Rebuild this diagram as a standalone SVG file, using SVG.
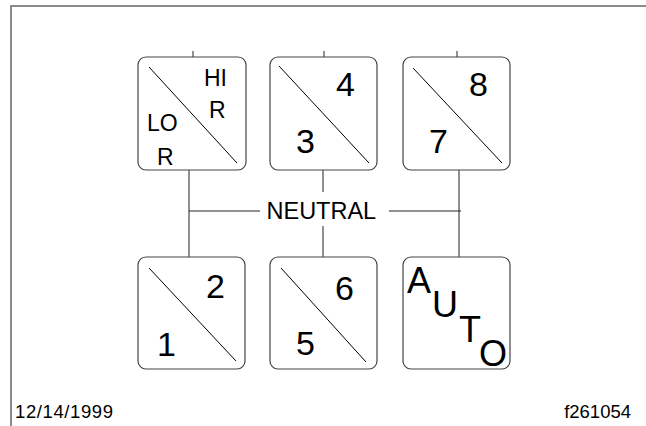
<svg xmlns="http://www.w3.org/2000/svg" width="646" height="426" viewBox="0 0 646 426">
<style>
.box{fill:#fff;stroke:#444;stroke-width:1.2}
.diag{stroke:#000;stroke-width:1}
.con{stroke:#222;stroke-width:1;fill:none}
text{font-family:"Liberation Sans",Arial,sans-serif;fill:#000}
.d{font-size:34px}
.s{font-size:23px}
.n{font-size:23.5px}
.a{font-size:36px}
.f{font-size:18.5px}
</style>
<rect x="0" y="0" width="646" height="426" fill="#fff"/>
<path d="M11 430 V6 H650" fill="none" stroke="#666" stroke-width="1.5"/>
<g id="connectors">
<line class="con" x1="193" y1="51" x2="193" y2="57"/>
<line class="con" x1="324" y1="51" x2="324" y2="57"/>
<line class="con" x1="457" y1="51" x2="457" y2="57"/>
<line class="con" x1="189" y1="170" x2="189" y2="257"/>
<line class="con" x1="323" y1="170" x2="323" y2="192"/>
<line class="con" x1="323" y1="226" x2="323" y2="257"/>
<line class="con" x1="459" y1="170" x2="459" y2="257"/>
<line class="con" x1="189" y1="211" x2="260" y2="211"/>
<line class="con" x1="389" y1="211" x2="461" y2="211"/>
<text id="neutral" x="266.5" y="218.5" class="n">NEUTRAL</text>
</g>
<g id="box-lo-hi">
<rect class="box" x="138" y="57" width="108" height="113" rx="8"/>
<line class="diag" x1="149" y1="67" x2="237" y2="163"/>
<text class="s" x="204" y="86">HI</text>
<text class="s" x="209" y="118">R</text>
<text class="s" x="147" y="131">LO</text>
<text class="s" x="157" y="165">R</text>
</g>
<g id="box-3-4">
<rect class="box" x="270" y="57" width="107" height="113" rx="8"/>
<line class="diag" x1="279" y1="66" x2="369" y2="163"/>
<text class="d" x="336" y="96">4</text>
<text class="d" x="296" y="153">3</text>
</g>
<g id="box-7-8">
<rect class="box" x="403" y="57" width="107" height="113" rx="8"/>
<line class="diag" x1="413" y1="68" x2="502" y2="163"/>
<text class="d" x="469" y="96">8</text>
<text class="d" x="429" y="153">7</text>
</g>
<g id="box-1-2">
<rect class="box" x="138" y="257" width="107" height="112" rx="8"/>
<line class="diag" x1="149" y1="268" x2="236" y2="361"/>
<text class="d" x="206" y="298">2</text>
<text class="d" x="157" y="356">1</text>
</g>
<g id="box-5-6">
<rect class="box" x="270" y="257" width="107" height="112" rx="8"/>
<line class="diag" x1="281" y1="268" x2="366" y2="362"/>
<text class="d" x="335" y="300">6</text>
<text class="d" x="296" y="355">5</text>
</g>
<g id="box-auto">
<rect class="box" x="403" y="257" width="107" height="112" rx="8"/>
<text class="a" x="407" y="293">A</text>
<text class="a" x="432" y="317">U</text>
<text class="a" x="459" y="342">T</text>
<text class="a" x="479" y="366">O</text>
</g>
<text class="f" x="15" y="418" textLength="98">12/14/1999</text>
<text class="f" x="631" y="418" text-anchor="end">f261054</text>
</svg>
